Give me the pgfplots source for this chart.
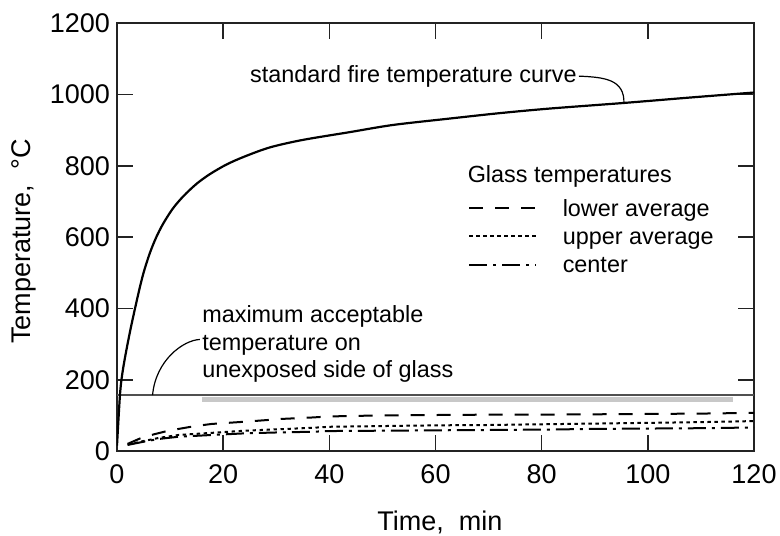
\documentclass[border=0pt]{standalone}
\usepackage{fontspec}
\setmainfont{Liberation Sans}
\usepackage{pgfplots}
\pgfplotsset{compat=1.18}
\definecolor{frame}{RGB}{35,35,35}
\definecolor{limitline}{RGB}{80,80,80}
\definecolor{band}{RGB}{200,200,200}
\begin{document}
\begin{tikzpicture}
\begin{axis}[
  scale only axis, width=318.5pt, height=213.8pt,
  xmin=0, xmax=120, ymin=0, ymax=1200,
  xtick={0,20,...,120}, ytick={0,200,...,1200},
  tick align=inside, major tick length=8pt,
  axis line style={line width=1.1pt, frame},
  tick style={line width=0.8pt, frame},
  /pgf/number format/assume math mode=true,
  /pgf/number format/1000 sep={},
  ticklabel style={font=\fontsize{13.5}{16}\selectfont},
  xticklabel style={yshift=-3.4pt},
  xlabel={Time,\ \ min}, ylabel={Temperature,\ \ °C},
  label style={font=\fontsize{13.5}{16}\selectfont},
  xlabel style={at={(axis description cs:0.507,-0.1866)}, anchor=base},
  ylabel style={at={(axis description cs:-0.146,0.49)}, anchor=center},
]
% scanned grey band below the limit line
\addplot[band, line width=2.5pt] coordinates {(16,144) (116,144)};
% maximum acceptable temperature line
\addplot[limitline, line width=1pt] coordinates {(0,157) (120,157)};
% standard fire temperature curve
\addplot[black, line width=1.1pt, smooth] coordinates {
(0,15) (0.6,165) (1.2,236) (2.45,335) (4,440) (5,500) (6.2,556) (7.4,600) (8.7,638)
(10.5,680) (12.5,715) (15,750) (17.5,777) (20.5,803) (23.8,825) (28.8,852) (35,873)
(43.9,895) (52,915) (62.7,933) (72,948) (81.5,961) (95.7,977) (108,992) (120,1006)};
% glass temperatures: lower average
\addplot[black, line width=1pt, dash pattern=on 7pt off 6pt] coordinates {
(2,20) (4.3,35) (7,47) (9.7,57) (14.7,70) (17.9,76) (22.9,81) (26.6,85) (31,90)
(36.7,94) (40,97) (50,100) (60,101) (70,102) (80,102) (90,103) (100,104) (110,105) (120,107)};
% upper average
\addplot[black, line width=1pt, dash pattern=on 1.7pt off 1.8pt] coordinates {
(2,18) (5,28) (8,37) (11.6,45) (17.9,51) (24.1,57) (30.4,61) (36.7,65) (40,68)
(50,70) (60,72) (70,73) (80,75) (90,77) (100,79) (110,81) (120,84)};
% center
\addplot[black, line width=1pt, dash pattern=on 9pt off 3pt on 1.5pt off 3pt] coordinates {
(2,17) (5,26) (8,34) (11.6,40) (17.9,45) (24,49.5) (30,52) (36.7,54) (40,56)
(50,57) (60,58) (70,59) (80,60) (90,62) (100,63) (110,64) (120,66)};
% legend samples
\addplot[black, line width=1pt, dash pattern=on 7pt off 6pt] coordinates {(66.4,683) (79,683)};
\addplot[black, line width=1pt, dash pattern=on 1.7pt off 1.8pt] coordinates {(66.4,603) (79,603)};
\addplot[black, line width=1pt, dash pattern=on 9pt off 3pt on 1.5pt off 3pt] coordinates {(66.4,521) (79,521)};
% texts
\begin{scope}[every node/.style={font=\fontsize{11.7}{14}\selectfont, inner sep=0pt, anchor=base west}]
\node at (axis cs:25,1035) {standard fire temperature curve};
\node at (axis cs:66,754) {Glass temperatures};
\node at (axis cs:83.9,659) {lower average};
\node at (axis cs:83.9,580) {upper average};
\node at (axis cs:83.9,500) {center};
\node at (axis cs:16,362) {maximum acceptable};
\node at (axis cs:16,283) {temperature on};
\node at (axis cs:16,205) {unexposed side of glass};
\end{scope}
% leaders
\draw[black, line width=0.6pt] (axis cs:87,1052) .. controls (axis cs:92,1049) and (axis cs:95.6,1042) .. (axis cs:95.5,976);
\draw[black, line width=0.6pt] (axis cs:15.6,313) .. controls (axis cs:12.5,311) and (axis cs:7.3,255) .. (axis cs:6.7,157);
\end{axis}
\pgfresetboundingbox
\path (-58.5pt,-42pt) rectangle (331.5pt,225.5pt);
\end{tikzpicture}
\end{document}
